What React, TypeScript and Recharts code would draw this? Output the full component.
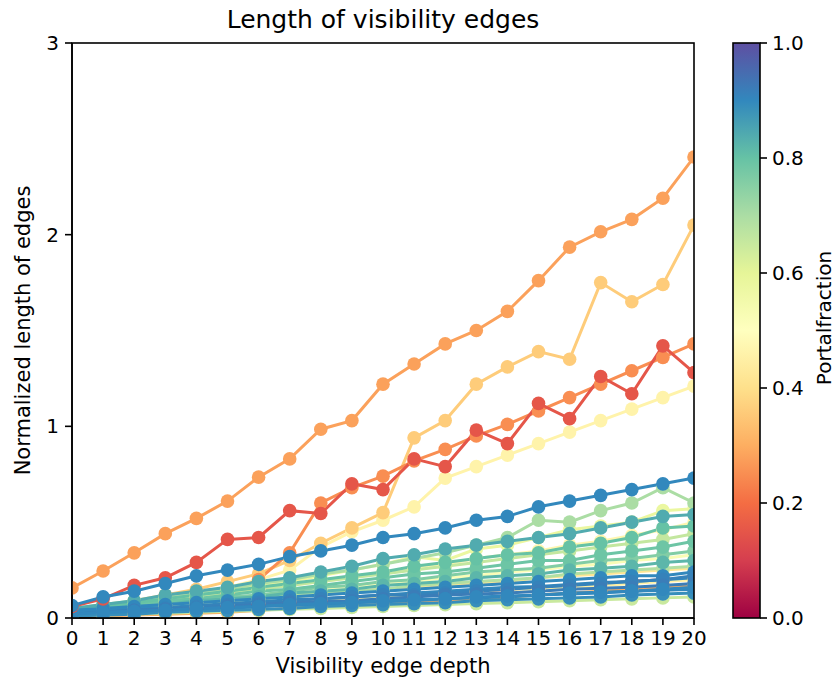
import React from "react";
import { LineChart, Line, XAxis, YAxis } from "recharts";

// visibility edge depth (x axis)
const depth = [0, 1, 2, 3, 4, 5, 6, 7, 8, 9, 10, 11, 12, 13, 14, 15, 16, 17, 18, 19, 20];
const yTicks = [0, 1, 2, 3];
const cbTicks = [0, 0.2, 0.4, 0.6, 0.8, 1.0];

// normalized edge length per run, with its portal fraction
const runA = [0.157, 0.245, 0.34, 0.44, 0.52, 0.61, 0.735, 0.83, 0.985, 1.03, 1.22, 1.325, 1.43, 1.5, 1.6, 1.76, 1.935, 2.015, 2.08, 2.19, 2.405];
const runB = [0.04, 0.06, 0.09, 0.12, 0.15, 0.19, 0.23, 0.3, 0.39, 0.47, 0.55, 0.94, 1.03, 1.22, 1.31, 1.39, 1.35, 1.75, 1.65, 1.74, 2.05];
const runC = [0.02, 0.04, 0.06, 0.08, 0.1, 0.13, 0.2, 0.34, 0.6, 0.68, 0.74, 0.82, 0.88, 0.95, 1.01, 1.08, 1.15, 1.22, 1.29, 1.36, 1.43];
const runD = [0.06, 0.1, 0.17, 0.21, 0.29, 0.41, 0.42, 0.56, 0.545, 0.7, 0.67, 0.83, 0.79, 0.98, 0.91, 1.12, 1.04, 1.26, 1.17, 1.42, 1.28];
const runE = [0.03, 0.05, 0.07, 0.1, 0.13, 0.16, 0.2, 0.25, 0.37, 0.45, 0.51, 0.58, 0.73, 0.79, 0.85, 0.91, 0.97, 1.03, 1.09, 1.15, 1.21];
const runF = [0.065, 0.11, 0.14, 0.18, 0.22, 0.25, 0.28, 0.32, 0.35, 0.38, 0.42, 0.44, 0.47, 0.51, 0.53, 0.58, 0.61, 0.64, 0.67, 0.7, 0.73];

const s01 = [0.05, 0.07, 0.09, 0.11, 0.13, 0.15, 0.18, 0.2, 0.23, 0.25, 0.28, 0.31, 0.34, 0.38, 0.42, 0.51, 0.5, 0.56, 0.6, 0.68, 0.6];
const s02 = [0.05, 0.07, 0.09, 0.12, 0.14, 0.16, 0.19, 0.21, 0.24, 0.27, 0.31, 0.33, 0.36, 0.38, 0.4, 0.42, 0.44, 0.47, 0.5, 0.53, 0.54];
const s03 = [0.04, 0.06, 0.08, 0.1, 0.12, 0.14, 0.16, 0.18, 0.2, 0.22, 0.24, 0.27, 0.29, 0.31, 0.33, 0.34, 0.37, 0.39, 0.42, 0.47, 0.48];
const s04 = [0.04, 0.06, 0.08, 0.1, 0.12, 0.15, 0.17, 0.19, 0.22, 0.25, 0.28, 0.32, 0.3, 0.36, 0.38, 0.42, 0.46, 0.48, 0.5, 0.56, 0.57];
const s05 = [0.03, 0.05, 0.07, 0.09, 0.11, 0.13, 0.15, 0.17, 0.19, 0.21, 0.24, 0.26, 0.28, 0.31, 0.33, 0.35, 0.38, 0.4, 0.43, 0.46, 0.5];
const s06 = [0.04, 0.06, 0.07, 0.09, 0.11, 0.13, 0.15, 0.17, 0.19, 0.21, 0.23, 0.25, 0.27, 0.29, 0.31, 0.33, 0.35, 0.37, 0.39, 0.41, 0.44];
const s07 = [0.04, 0.05, 0.07, 0.09, 0.1, 0.12, 0.14, 0.15, 0.17, 0.19, 0.21, 0.23, 0.24, 0.26, 0.28, 0.3, 0.3, 0.33, 0.35, 0.37, 0.4];
const s08 = [0.03, 0.05, 0.06, 0.08, 0.09, 0.11, 0.12, 0.14, 0.16, 0.17, 0.19, 0.2, 0.22, 0.24, 0.25, 0.26, 0.28, 0.3, 0.31, 0.33, 0.35];
const s09 = [0.03, 0.04, 0.06, 0.07, 0.09, 0.1, 0.12, 0.13, 0.15, 0.16, 0.18, 0.19, 0.21, 0.22, 0.24, 0.25, 0.27, 0.28, 0.3, 0.31, 0.33];
const s10 = [0.03, 0.05, 0.06, 0.07, 0.09, 0.1, 0.11, 0.13, 0.14, 0.15, 0.17, 0.18, 0.19, 0.21, 0.22, 0.23, 0.25, 0.26, 0.27, 0.29, 0.3];
const s11 = [0.03, 0.04, 0.05, 0.07, 0.08, 0.09, 0.1, 0.12, 0.13, 0.14, 0.15, 0.17, 0.18, 0.19, 0.2, 0.21, 0.23, 0.24, 0.25, 0.26, 0.27];
const s12 = [0.03, 0.04, 0.05, 0.06, 0.08, 0.09, 0.1, 0.11, 0.12, 0.14, 0.15, 0.16, 0.17, 0.18, 0.19, 0.21, 0.22, 0.23, 0.24, 0.25, 0.26];

const b01 = [0.01, 0.02, 0.03, 0.04, 0.05, 0.06, 0.07, 0.08, 0.09, 0.1, 0.11, 0.12, 0.13, 0.14, 0.15, 0.16, 0.17, 0.18, 0.19, 0.2, 0.21];
const b02 = [0.0, 0.01, 0.015, 0.02, 0.025, 0.03, 0.04, 0.05, 0.06, 0.065, 0.07, 0.08, 0.09, 0.1, 0.11, 0.12, 0.13, 0.14, 0.15, 0.16, 0.17];
const b03 = [0.02, 0.03, 0.04, 0.05, 0.06, 0.07, 0.08, 0.09, 0.1, 0.1, 0.11, 0.12, 0.13, 0.14, 0.15, 0.15, 0.16, 0.17, 0.18, 0.19, 0.2];
const b04 = [0.01, 0.015, 0.02, 0.025, 0.03, 0.035, 0.04, 0.045, 0.05, 0.055, 0.06, 0.065, 0.07, 0.075, 0.08, 0.085, 0.09, 0.095, 0.1, 0.105, 0.11];
const b05 = [0.04, 0.05, 0.06, 0.07, 0.08, 0.09, 0.1, 0.11, 0.12, 0.13, 0.14, 0.15, 0.16, 0.17, 0.18, 0.19, 0.2, 0.21, 0.22, 0.22, 0.24];
const b06 = [0.03, 0.04, 0.05, 0.055, 0.065, 0.075, 0.085, 0.095, 0.1, 0.11, 0.12, 0.13, 0.14, 0.15, 0.16, 0.165, 0.175, 0.185, 0.19, 0.2, 0.21];
const b07 = [0.02, 0.03, 0.04, 0.05, 0.06, 0.07, 0.08, 0.09, 0.1, 0.11, 0.12, 0.12, 0.13, 0.14, 0.15, 0.16, 0.17, 0.18, 0.19, 0.2, 0.22];
const b08 = [0.02, 0.03, 0.04, 0.045, 0.05, 0.06, 0.07, 0.08, 0.085, 0.09, 0.1, 0.11, 0.12, 0.125, 0.13, 0.14, 0.15, 0.155, 0.16, 0.17, 0.18];
const b09 = [0.01, 0.02, 0.03, 0.035, 0.04, 0.05, 0.06, 0.065, 0.07, 0.08, 0.085, 0.09, 0.1, 0.105, 0.11, 0.12, 0.125, 0.13, 0.14, 0.145, 0.15];
const b10 = [0.01, 0.015, 0.02, 0.03, 0.035, 0.04, 0.045, 0.05, 0.06, 0.065, 0.07, 0.075, 0.08, 0.09, 0.095, 0.1, 0.105, 0.11, 0.12, 0.125, 0.13];
const b11 = [0.02, 0.03, 0.035, 0.04, 0.05, 0.055, 0.06, 0.07, 0.075, 0.08, 0.09, 0.095, 0.1, 0.11, 0.115, 0.12, 0.13, 0.135, 0.14, 0.15, 0.16];

// drawing order: first drawn ends up underneath
const runs = [
  { key: "runE", fraction: 0.46, values: runE },
  { key: "runB", fraction: 0.36, values: runB },
  { key: "runC", fraction: 0.25, values: runC },
  { key: "s12", fraction: 0.42, values: s12 },
  { key: "s05", fraction: 0.47, values: s05 },
  { key: "s09", fraction: 0.52, values: s09 },
  { key: "s04", fraction: 0.58, values: s04 },
  { key: "s06", fraction: 0.66, values: s06 },
  { key: "s11", fraction: 0.69, values: s11 },
  { key: "s01", fraction: 0.7, values: s01 },
  { key: "s08", fraction: 0.76, values: s08 },
  { key: "s07", fraction: 0.79, values: s07 },
  { key: "s03", fraction: 0.8, values: s03 },
  { key: "s10", fraction: 0.82, values: s10 },
  { key: "s02", fraction: 0.84, values: s02 },
  { key: "b01", fraction: 0.15, values: b01 },
  { key: "b02", fraction: 0.3, values: b02 },
  { key: "b03", fraction: 0.45, values: b03 },
  { key: "b04", fraction: 0.65, values: b04 },
  { key: "b05", fraction: 0.9, values: b05 },
  { key: "b06", fraction: 0.9, values: b06 },
  { key: "b07", fraction: 0.91, values: b07 },
  { key: "b08", fraction: 0.92, values: b08 },
  { key: "b09", fraction: 0.9, values: b09 },
  { key: "b10", fraction: 0.89, values: b10 },
  { key: "b11", fraction: 0.9, values: b11 },
  { key: "runD", fraction: 0.15, values: runD },
  { key: "runF", fraction: 0.9, values: runF },
  { key: "runA", fraction: 0.28, values: runA },
];

// matplotlib "Spectral"
const SPECTRAL = ["#9e0142", "#d53e4f", "#f46d43", "#fdae61", "#fee08b", "#ffffbf", "#e6f598", "#abdda4", "#66c2a5", "#3288bd", "#5e4fa2"];

function spectral(t: number) {
  const p = Math.max(0, Math.min(1, t)) * (SPECTRAL.length - 1);
  const i = Math.min(Math.floor(p), SPECTRAL.length - 2);
  const f = p - i;
  const a = SPECTRAL[i], b = SPECTRAL[i + 1];
  const ch = (h: string, k: number) => parseInt(h.slice(1 + k * 2, 3 + k * 2), 16);
  const c = [0, 1, 2].map((k) => Math.round(ch(a, k) + (ch(b, k) - ch(a, k)) * f));
  return `rgb(${c[0]},${c[1]},${c[2]})`;
}

const rows = depth.map((d, i) => {
  const row: Record<string, number> = { depth: d };
  runs.forEach((r) => (row[r.key] = r.values[i]));
  return row;
});

const FONT = "DejaVu Sans";
const W = 838;
const H = 690;
const plot = { left: 72, top: 43, right: 694, bottom: 618 };
const cb = { x: 733, w: 27 };

export default function App() {
  const cbScale = (v: number) => plot.bottom - v * (plot.bottom - plot.top);
  return (
    <div style={{ position: "absolute", left: 0, top: 0, width: W, height: H, background: "#fff", fontFamily: FONT }}>
      <LineChart
        width={W}
        height={H}
        data={rows}
        margin={{ top: plot.top, right: W - plot.right, bottom: 32, left: 32 }}
      >
        <XAxis
          dataKey="depth"
          type="number"
          domain={[0, 20]}
          ticks={depth}
          interval={0}
          allowDataOverflow
          height={40}
          tickSize={7}
          tickMargin={6}
          stroke="#000"
          strokeWidth={1.6}
          tick={{ fontSize: 20, fill: "#000", fontFamily: FONT }}
        />
        <YAxis
          type="number"
          domain={[0, 3]}
          ticks={yTicks}
          allowDataOverflow
          width={40}
          tickSize={7}
          tickMargin={6}
          stroke="#000"
          strokeWidth={1.6}
          tick={{ fontSize: 20, fill: "#000", fontFamily: FONT }}
        />
        {runs.map((r) => {
          const c = spectral(r.fraction);
          return (
            <Line
              key={r.key}
              dataKey={r.key}
              type="linear"
              stroke={c}
              strokeWidth={3}
              dot={{ r: 6.8, fill: c, stroke: "none", strokeWidth: 0 }}
              activeDot={false}
              isAnimationActive={false}
            />
          );
        })}
      </LineChart>
      <svg width={W} height={H} style={{ position: "absolute", left: 0, top: 0, pointerEvents: "none" }}>
        <defs>
          <linearGradient id="cbGrad" x1="0" y1="1" x2="0" y2="0">
            {SPECTRAL.map((c, i) => (
              <stop key={i} offset={i / (SPECTRAL.length - 1)} stopColor={c} />
            ))}
          </linearGradient>
        </defs>
        <rect
          x={plot.left}
          y={plot.top}
          width={plot.right - plot.left}
          height={plot.bottom - plot.top}
          fill="none"
          stroke="#000"
          strokeWidth={1.6}
        />
        <text x={383} y={28} textAnchor="middle" fontSize={25} fontFamily={FONT} fill="#000">
          Length of visibility edges
        </text>
        <text x={383} y={673} textAnchor="middle" fontSize={21} fontFamily={FONT} fill="#000">
          Visibility edge depth
        </text>
        <text
          transform={`translate(29.5, ${(plot.top + plot.bottom) / 2}) rotate(-90)`}
          textAnchor="middle"
          fontSize={21}
          fontFamily={FONT}
          fill="#000"
        >
          Normalized length of edges
        </text>
        <rect
          x={cb.x}
          y={plot.top}
          width={cb.w}
          height={plot.bottom - plot.top}
          fill="url(#cbGrad)"
          stroke="#000"
          strokeWidth={1.6}
        />
        {cbTicks.map((t) => (
          <g key={t}>
            <line x1={cb.x + cb.w} x2={cb.x + cb.w + 7} y1={cbScale(t)} y2={cbScale(t)} stroke="#000" strokeWidth={1.6} />
            <text x={cb.x + cb.w + 12} y={cbScale(t) + 7} fontSize={20} fontFamily={FONT} fill="#000">
              {t.toFixed(1)}
            </text>
          </g>
        ))}
        <text
          transform={`translate(831, 318) rotate(-90)`}
          textAnchor="middle"
          fontSize={20}
          fontFamily={FONT}
          fill="#000"
        >
          Portalfraction
        </text>
      </svg>
    </div>
  );
}
